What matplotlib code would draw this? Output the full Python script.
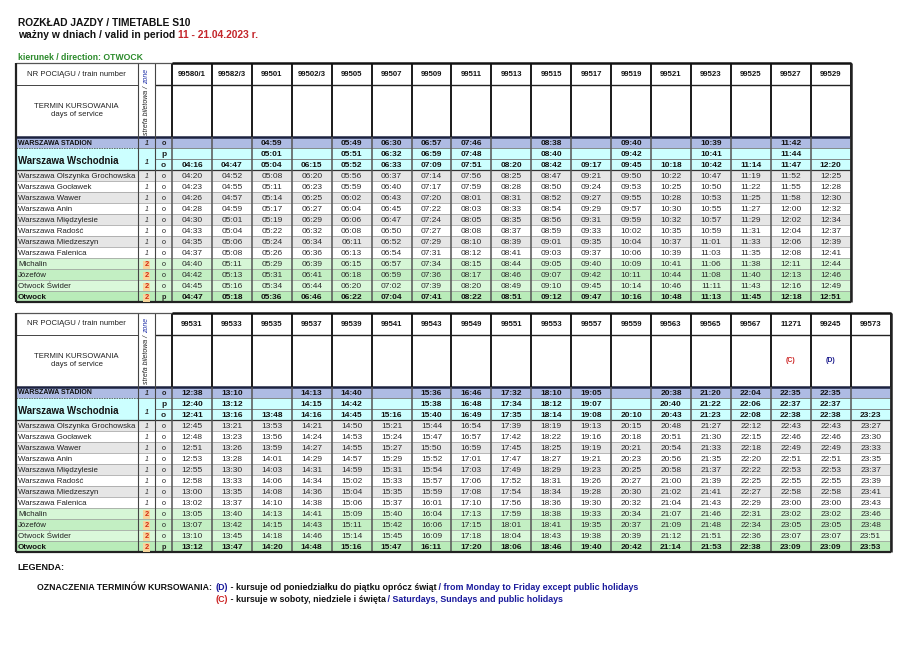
import matplotlib.pyplot as plt
from matplotlib.patches import Rectangle

plt.rcParams['font.family'] = 'Liberation Sans'

# ---------------- data ----------------
stations = ['WARSZAWA STADION', 'Warszawa Wschodnia',
            'Warszawa Olszynka Grochowska', 'Warszawa Gocławek',
            'Warszawa Wawer', 'Warszawa Anin', 'Warszawa Międzylesie',
            'Warszawa Radość', 'Warszawa Miedzeszyn', 'Warszawa Falenica',
            'Michalin', 'Józefów', 'Otwock Świder', 'Otwock']
zones = ['1', '1', '1', '1', '1', '1', '1', '1', '1', '1', '2', '2', '2', '2']
# which station each timetable row belongs to, and arrival/departure flag
row_station = [0, 1, 1, 2, 3, 4, 5, 6, 7, 8, 9, 10, 11, 12, 13]
row_flag = ['o', 'p', 'o', 'o', 'o', 'o', 'o', 'o', 'o', 'o', 'o', 'o', 'o', 'o', 'p']

trains_1 = ['99580/1', '99582/3', '99501', '99502/3', '99505', '99507',
            '99509', '99511', '99513', '99515', '99517', '99519', '99521',
            '99523', '99525', '99527', '99529']
days_1 = [''] * 17
times_1 = [
    '- - 04:59 - 05:49 06:30 06:57 07:46 - 08:38 - 09:40 - 10:39 - 11:42 -',
    '- - 05:01 - 05:51 06:32 06:59 07:48 - 08:40 - 09:42 - 10:41 - 11:44 -',
    '04:16 04:47 05:04 06:15 05:52 06:33 07:09 07:51 08:20 08:42 09:17 09:45 10:18 10:42 11:14 11:47 12:20',
    '04:20 04:52 05:08 06:20 05:56 06:37 07:14 07:56 08:25 08:47 09:21 09:50 10:22 10:47 11:19 11:52 12:25',
    '04:23 04:55 05:11 06:23 05:59 06:40 07:17 07:59 08:28 08:50 09:24 09:53 10:25 10:50 11:22 11:55 12:28',
    '04:26 04:57 05:14 06:25 06:02 06:43 07:20 08:01 08:31 08:52 09:27 09:55 10:28 10:53 11:25 11:58 12:30',
    '04:28 04:59 05:17 06:27 06:04 06:45 07:22 08:03 08:33 08:54 09:29 09:57 10:30 10:55 11:27 12:00 12:32',
    '04:30 05:01 05:19 06:29 06:06 06:47 07:24 08:05 08:35 08:56 09:31 09:59 10:32 10:57 11:29 12:02 12:34',
    '04:33 05:04 05:22 06:32 06:08 06:50 07:27 08:08 08:37 08:59 09:33 10:02 10:35 10:59 11:31 12:04 12:37',
    '04:35 05:06 05:24 06:34 06:11 06:52 07:29 08:10 08:39 09:01 09:35 10:04 10:37 11:01 11:33 12:06 12:39',
    '04:37 05:08 05:26 06:36 06:13 06:54 07:31 08:12 08:41 09:03 09:37 10:06 10:39 11:03 11:35 12:08 12:41',
    '04:40 05:11 05:29 06:39 06:15 06:57 07:34 08:15 08:44 09:05 09:40 10:09 10:41 11:06 11:38 12:11 12:44',
    '04:42 05:13 05:31 06:41 06:18 06:59 07:36 08:17 08:46 09:07 09:42 10:11 10:44 11:08 11:40 12:13 12:46',
    '04:45 05:16 05:34 06:44 06:20 07:02 07:39 08:20 08:49 09:10 09:45 10:14 10:46 11:11 11:43 12:16 12:49',
    '04:47 05:18 05:36 06:46 06:22 07:04 07:41 08:22 08:51 09:12 09:47 10:16 10:48 11:13 11:45 12:18 12:51',
]

trains_2 = ['99531', '99533', '99535', '99537', '99539', '99541', '99543',
            '99549', '99551', '99553', '99557', '99559', '99563', '99565',
            '99567', '11271', '99245', '99573']
days_2 = [''] * 15 + ['(C)', '(D)', '']
times_2 = [
    '12:38 13:10 - 14:13 14:40 - 15:36 16:46 17:32 18:10 19:05 - 20:38 21:20 22:04 22:35 22:35 -',
    '12:40 13:12 - 14:15 14:42 - 15:38 16:48 17:34 18:12 19:07 - 20:40 21:22 22:06 22:37 22:37 -',
    '12:41 13:16 13:48 14:16 14:45 15:16 15:40 16:49 17:35 18:14 19:08 20:10 20:43 21:23 22:08 22:38 22:38 23:23',
    '12:45 13:21 13:53 14:21 14:50 15:21 15:44 16:54 17:39 18:19 19:13 20:15 20:48 21:27 22:12 22:43 22:43 23:27',
    '12:48 13:23 13:56 14:24 14:53 15:24 15:47 16:57 17:42 18:22 19:16 20:18 20:51 21:30 22:15 22:46 22:46 23:30',
    '12:51 13:26 13:59 14:27 14:55 15:27 15:50 16:59 17:45 18:25 19:19 20:21 20:54 21:33 22:18 22:49 22:49 23:33',
    '12:53 13:28 14:01 14:29 14:57 15:29 15:52 17:01 17:47 18:27 19:21 20:23 20:56 21:35 22:20 22:51 22:51 23:35',
    '12:55 13:30 14:03 14:31 14:59 15:31 15:54 17:03 17:49 18:29 19:23 20:25 20:58 21:37 22:22 22:53 22:53 23:37',
    '12:58 13:33 14:06 14:34 15:02 15:33 15:57 17:06 17:52 18:31 19:26 20:27 21:00 21:39 22:25 22:55 22:55 23:39',
    '13:00 13:35 14:08 14:36 15:04 15:35 15:59 17:08 17:54 18:34 19:28 20:30 21:02 21:41 22:27 22:58 22:58 23:41',
    '13:02 13:37 14:10 14:38 15:06 15:37 16:01 17:10 17:56 18:36 19:30 20:32 21:04 21:43 22:29 23:00 23:00 23:43',
    '13:05 13:40 14:13 14:41 15:09 15:40 16:04 17:13 17:59 18:38 19:33 20:34 21:07 21:46 22:31 23:02 23:02 23:46',
    '13:07 13:42 14:15 14:43 15:11 15:42 16:06 17:15 18:01 18:41 19:35 20:37 21:09 21:48 22:34 23:05 23:05 23:48',
    '13:10 13:45 14:18 14:46 15:14 15:45 16:09 17:18 18:04 18:43 19:38 20:39 21:12 21:51 22:36 23:07 23:07 23:51',
    '13:12 13:47 14:20 14:48 15:16 15:47 16:11 17:20 18:06 18:46 19:40 20:42 21:14 21:53 22:38 23:09 23:09 23:53',
]

# ---------------- layout ----------------
X_LAB, X_ZONE, X_PO, X_DATA = 15.5, 138, 155, 172
CW = 39.92
HDR_H, DAYS_H, RH = 22, 52, 11
ROW_BG = ['#aebbe3', '#ccffff', '#ccffff', '#e6e6e6', 'white', '#e6e6e6',
          'white', '#e6e6e6', 'white', '#e6e6e6', 'white',
          '#d6f6d6', '#c3efc3', '#daf8da', '#b9ecb9']
BOLD_ROWS = {0, 1, 2, 14}
DAY_COLORS = {'(C)': '#cc2222', '(D)': '#1a1a8c'}

fig = plt.figure(figsize=(9.15, 6.46), dpi=100)
ax = fig.add_axes([0, 0, 1, 1])
ax.set_xlim(0, 915)
ax.set_ylim(646, 0)
ax.axis('off')


def chain(x, y, parts, **kw):
    # draw several coloured pieces of text one after another
    t = ax.text(x, y, parts[0][0], color=parts[0][1], va='center', **kw)
    for s, c in parts[1:]:
        t = ax.annotate(s, xy=(1, 0.5), xycoords=t, va='center',
                        color=c, **kw)
    return t


def hline(y, x0, x1, **kw):
    ax.plot([x0, x1], [y, y], solid_capstyle='butt', **kw)


def vline(x, y0, y1, **kw):
    ax.plot([x, x], [y0, y1], solid_capstyle='butt', **kw)


def draw_table(top, trains, days, times):
    n = len(trains)
    x_end = X_DATA + n * CW
    y_days = top + HDR_H
    y_rows = y_days + DAYS_H
    nrows = len(row_flag)
    y_bot = y_rows + nrows * RH
    centers = [X_DATA + (j + 0.5) * CW for j in range(n)]

    # row backgrounds
    for i in range(nrows):
        ax.add_patch(Rectangle((X_LAB, y_rows + i * RH), x_end - X_LAB, RH,
                               fc=ROW_BG[i], ec='none', zorder=0))

    # horizontal lines between rows
    for i in range(1, nrows):
        y = y_rows + i * RH
        if i == 1:
            hline(y, X_LAB, X_ZONE, color='#555', lw=0.6, ls=(0, (2, 1)))
            hline(y, X_ZONE, x_end, color='#777', lw=0.6)
        elif i == 2:
            hline(y, X_PO, x_end, color='#777', lw=0.6)
        elif i == 3:
            hline(y, X_LAB, x_end, color='#333', lw=0.9)
        else:
            hline(y, X_LAB, x_end, color='#9a9a9a', lw=0.5)

    # header separators
    hline(y_days, X_LAB, X_ZONE, color='#444', lw=0.7)
    hline(y_days, X_PO, x_end, color='#222', lw=1.0)
    hline(y_rows, X_LAB, x_end, color='#1c2240', lw=1.8)

    # vertical lines
    vline(X_ZONE, top, y_bot, color='#444', lw=0.8)
    vline(X_PO, top, y_bot, color='#444', lw=0.8)
    for j in range(n + 1):
        x = X_DATA + j * CW
        vline(x, y_rows, y_bot, color='#555', lw=1.1)
        vline(x, top, y_rows, color='#1a1a1a', lw=1.4)

    # outer frame
    hline(top, X_LAB, X_DATA, color='#555', lw=0.9)
    hline(top, X_DATA, x_end, color='#111', lw=1.8)
    hline(y_bot, X_LAB, x_end, color='#222', lw=1.6)
    vline(X_LAB, top, y_bot, color='#222', lw=1.6)
    vline(x_end, top, y_bot, color='#222', lw=1.8)

    # header texts
    xl = (X_LAB + X_ZONE) / 2
    ax.text(xl, top + HDR_H / 2, 'NR POCIĄGU / train number', fontsize=5.6,
            ha='center', va='center', color='#222')
    ax.text(xl, y_days + DAYS_H / 2 - 4, 'TERMIN KURSOWANIA', fontsize=5.6,
            ha='center', va='center', color='#222')
    ax.text(xl, y_days + DAYS_H / 2 + 4, 'days of service', fontsize=5.6,
            ha='center', va='center', color='#222')
    xz = (X_ZONE + X_PO) / 2
    t = ax.text(xz, y_rows - 2, 'strefa biletowa / ', fontsize=5.0,
                style='italic', rotation=90, ha='center', va='bottom',
                color='#222')
    ax.annotate('zone', xy=(0.5, 1), xycoords=t, fontsize=5.0,
                style='italic', rotation=90, ha='center', va='bottom',
                color='#2233aa')

    for j in range(n):
        ax.text(centers[j], top + HDR_H / 2 + 0.5, trains[j], fontsize=5.6,
                weight='bold', ha='center', va='center', color='#111')
        if days[j]:
            ax.text(centers[j], y_days + DAYS_H / 2, days[j], fontsize=5.0,
                    weight='bold', ha='center', va='center',
                    color=DAY_COLORS[days[j]])

    # station labels, zones and flags (baseline placed inside each row)
    i = 0
    while i < nrows:
        s = row_station[i]
        span = row_station.count(s)
        yb = y_rows + (i + span) * RH - (4.5 if span > 1 else 2.6)
        if s == 0:
            ax.text(X_LAB + 2, yb - 0.4, stations[s], fontsize=5.0,
                    weight='bold', va='baseline', color='#111')
        elif span > 1:
            ax.text(X_LAB + 2.5, yb - 1.2, stations[s], fontsize=6.9,
                    weight='bold', va='baseline', color='#111')
        elif s == len(stations) - 1:
            ax.text(X_LAB + 2.5, yb, stations[s], fontsize=5.8,
                    weight='bold', va='baseline', color='#111')
        else:
            ax.text(X_LAB + 2.5, yb, stations[s], fontsize=5.7,
                    va='baseline', color='#222')
        if zones[s] == '2':
            ax.text(xz, yb, zones[s], fontsize=5.4, weight='bold',
                    ha='center', va='baseline', color='#d42a10',
                    bbox=dict(boxstyle='square,pad=0.12', fc='#f8d69c',
                              ec='none'))
        else:
            ax.text(xz, yb - (1.0 if span > 1 else 0), zones[s], fontsize=5.0,
                    style='italic',
                    weight='bold' if span > 1 or s == 0 else 'normal',
                    ha='center', va='baseline', color='#333')
        i += span

    for i in range(nrows):
        yb = y_rows + (i + 1) * RH - 2.6
        bold = i in BOLD_ROWS
        ax.text((X_PO + X_DATA) / 2, yb, row_flag[i],
                fontsize=6.0 if i in (1, 2) else 5.2,
                weight='bold' if bold else 'normal',
                ha='center', va='baseline', color='#222')
        cells = times[i].split()
        for j, v in enumerate(cells):
            if v == '-':
                continue
            ax.text(centers[j], yb, v, fontsize=6.0,
                    weight='bold' if bold else 'normal',
                    ha='center', va='baseline',
                    color='#111' if bold else '#2a2a2a')


# ---------------- titles ----------------
ax.text(18, 23, 'ROZKŁAD JAZDY / TIMETABLE S10', fontsize=7.4, weight='bold',
        va='center', color='#111')
chain(18, 35, [('ważny w dniach / valid in period ', '#111'),
               ('11 - 21.04.2023 r.', '#c4262b')],
      fontsize=7.4, weight='bold')
ax.text(18, 57, 'kierunek / direction: OTWOCK', fontsize=6.2, weight='bold',
        va='center', color='#2b8a2b')

draw_table(63, trains_1, days_1, times_1)
draw_table(312.5, trains_2, days_2, times_2)

# ---------------- legend ----------------
narrow = ['Liberation Sans Narrow', 'Liberation Sans']
ax.text(17, 568, 'LEGENDA:', fontsize=6.5, weight='bold', va='center',
        color='#111', family=narrow)
ax.text(37, 587, 'OZNACZENIA TERMINÓW KURSOWANIA:', fontsize=6.3,
        weight='bold', va='center', color='#111', family=narrow)
chain(215, 587, [('(D)', '#1a1a9c'),
                 (' - kursuje od poniedziałku do piątku oprócz świąt', '#111'),
                 (' / from Monday to Friday except public holidays', '#1a1a9c')],
      fontsize=6.4, weight='bold', family=narrow)
chain(215, 600, [('(C)', '#cc2222'),
                 (' - kursuje w soboty, niedziele i święta', '#111'),
                 (' / Saturdays, Sundays and public holidays', '#1a1a9c')],
      fontsize=6.4, weight='bold', family=narrow)

fig.savefig('out.png', dpi=100, facecolor='white')
